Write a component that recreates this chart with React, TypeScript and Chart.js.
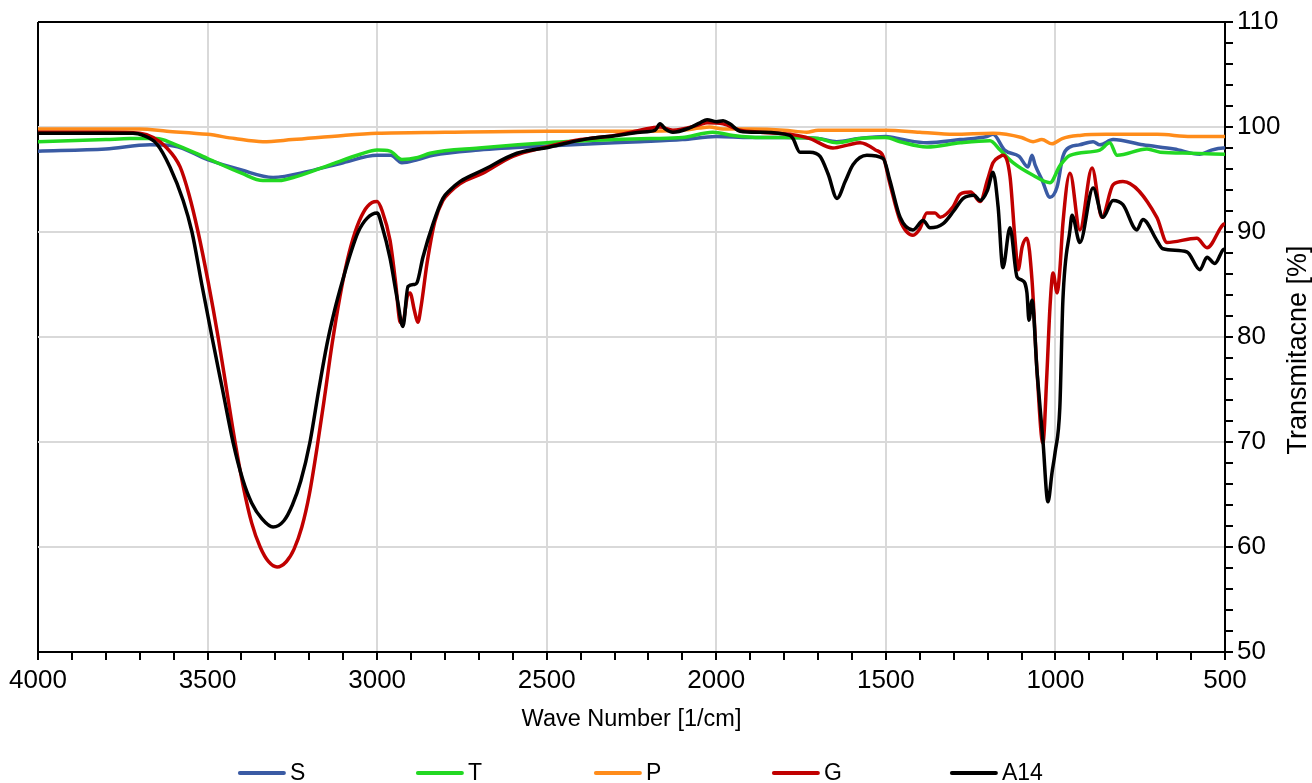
import { useEffect, useRef } from 'react';
import { Chart, registerables } from 'chart.js';

Chart.register(...registerables);

const FONT = '"Liberation Sans", Arial, Helvetica, sans-serif';

const X_TITLE = 'Wave Number [1/cm]';
const Y_TITLE = 'Transmitacne [%]';
const X_MIN = 500;
const X_MAX = 4000;
const Y_MIN = 50;
const Y_MAX = 110;
const SERIES_LABELS = ['S', 'T', 'P', 'G', 'A14'];
const SERIES_COLORS = ['#3a5ba4', '#22d822', '#ff8c1a', '#c00000', '#000000'];

// [wavenumber (1/cm), transmittance (%)]
const S_POINTS = [
  [4000, 97.7], [3800, 97.9], [3670, 98.3], [3600, 98.2], [3500, 96.9], [3400, 95.9],
  [3307, 95.2], [3200, 95.8], [3100, 96.6], [3000, 97.3], [2960, 97.3], [2927, 96.6],
  [2880, 96.9], [2835, 97.3], [2700, 97.8], [2500, 98.2], [2300, 98.5], [2225, 98.6],
  [2100, 98.8], [2000, 99.1], [1900, 99.0], [1800, 99.0], [1700, 98.9], [1645, 98.6],
  [1580, 98.9], [1500, 99.1], [1450, 98.8], [1379, 98.5], [1281, 98.8], [1202, 99.1],
  [1184, 99.3], [1150, 97.8], [1107, 97.2], [1081, 96.2], [1069, 97.3], [1060, 96.4],
  [1040, 95.0], [1016, 93.3], [995, 94.3], [978, 97.2], [957, 98.1], [930, 98.3],
  [889, 98.6], [869, 98.3], [830, 98.8], [742, 98.3], [650, 97.9], [574, 97.4],
  [540, 97.8], [506, 98.0], [500, 98.0],
];

const T_POINTS = [
  [4000, 98.6], [3800, 98.8], [3729, 98.9], [3650, 98.9], [3600, 98.4], [3500, 97.0],
  [3400, 95.6], [3337, 94.9], [3290, 94.9], [3236, 95.3], [3139, 96.4], [3050, 97.4],
  [3000, 97.8], [2962, 97.7], [2927, 96.9], [2880, 97.1], [2844, 97.5], [2700, 98.0],
  [2500, 98.5], [2300, 98.8], [2196, 98.9], [2100, 99.0], [2010, 99.5], [1950, 99.2],
  [1870, 99.0], [1800, 99.0], [1700, 98.9], [1645, 98.5], [1576, 98.9], [1500, 99.0],
  [1458, 98.6], [1379, 98.1], [1281, 98.5], [1193, 98.7], [1163, 97.8], [1125, 96.6],
  [1066, 95.4], [1016, 94.7], [987, 96.3], [957, 97.3], [869, 97.8], [840, 98.5],
  [818, 97.3], [730, 97.9], [691, 97.6], [600, 97.5], [500, 97.4],
];

const P_POINTS = [
  [4000, 99.8], [3700, 99.8], [3620, 99.6], [3500, 99.3], [3420, 98.9], [3337, 98.6],
  [3250, 98.8], [3100, 99.2], [3000, 99.4], [2800, 99.5], [2500, 99.6], [2300, 99.6],
  [2100, 99.7], [2050, 99.9], [2020, 100.0], [1980, 99.8], [1900, 99.8], [1800, 99.7],
  [1733, 99.5], [1700, 99.7], [1500, 99.7], [1400, 99.5], [1300, 99.3], [1184, 99.4],
  [1100, 99.0], [1066, 98.6], [1040, 98.8], [1010, 98.4], [980, 98.9], [928, 99.2],
  [850, 99.3], [700, 99.3], [600, 99.1], [500, 99.1],
];

const G_POINTS = [
  [4000, 99.5], [3800, 99.5], [3700, 99.4], [3660, 99.0], [3620, 98.0], [3581, 96.2],
  [3555, 93.6], [3528, 90.0], [3498, 85.2], [3469, 80.0], [3444, 75.0], [3419, 70.0],
  [3395, 65.8], [3370, 62.3], [3345, 60.0], [3320, 58.6], [3295, 58.1], [3268, 58.6],
  [3245, 59.8], [3222, 61.9], [3200, 65.0], [3177, 69.5], [3155, 74.3], [3133, 79.3],
  [3110, 83.8], [3088, 87.3], [3065, 90.0], [3040, 91.9], [3015, 92.8], [3000, 92.9],
  [2985, 92.0], [2962, 89.2], [2945, 85.0], [2933, 81.5], [2925, 81.3], [2910, 84.0],
  [2903, 84.2], [2890, 82.5], [2880, 81.4], [2870, 83.0], [2853, 87.0], [2830, 91.0],
  [2806, 93.0], [2785, 93.8], [2756, 94.6], [2688, 95.6], [2600, 97.2], [2500, 98.1],
  [2400, 98.8], [2300, 99.2], [2225, 99.7], [2166, 100.0], [2128, 99.7], [2050, 100.2],
  [2027, 100.4], [1980, 100.3], [1930, 99.7], [1870, 99.5], [1783, 99.3], [1724, 98.9],
  [1656, 98.0], [1610, 98.3], [1576, 98.5], [1530, 97.8], [1508, 97.2], [1488, 94.6],
  [1458, 91.1], [1420, 89.7], [1400, 90.3], [1379, 91.8], [1355, 91.8], [1340, 91.4],
  [1302, 92.4], [1281, 93.6], [1250, 93.8], [1222, 92.9], [1200, 95.0], [1184, 96.6],
  [1163, 97.2], [1155, 97.3], [1134, 95.3], [1119, 89.2], [1110, 86.4], [1098, 88.6],
  [1084, 89.4], [1069, 85.4], [1054, 76.6], [1037, 69.9], [1025, 76.6], [1016, 82.9],
  [1007, 86.1], [995, 84.2], [987, 86.4], [978, 90.8], [957, 95.6], [928, 90.2],
  [892, 96.1], [863, 91.4], [830, 94.5], [801, 94.8], [701, 91.4], [671, 89.0],
  [583, 89.4], [553, 88.5], [506, 90.7], [500, 90.8],
];

const A14_POINTS = [
  [4000, 99.4], [3800, 99.4], [3720, 99.4], [3690, 99.2], [3650, 98.4], [3611, 96.2],
  [3572, 93.0], [3546, 90.0], [3517, 85.0], [3487, 80.0], [3456, 75.0], [3425, 70.0],
  [3396, 66.4], [3370, 64.2], [3340, 62.7], [3307, 61.9], [3275, 62.5], [3250, 64.0],
  [3225, 66.3], [3198, 70.0], [3172, 75.0], [3148, 79.3], [3125, 82.6], [3100, 85.6],
  [3078, 88.0], [3056, 90.0], [3030, 91.3], [3000, 91.8], [2985, 90.5], [2962, 87.5],
  [2940, 83.5], [2924, 81.0], [2909, 84.8], [2890, 85.0], [2882, 85.2], [2865, 87.6],
  [2835, 90.8], [2806, 93.2], [2785, 94.0], [2756, 94.8], [2688, 95.9], [2588, 97.5],
  [2490, 98.1], [2393, 98.8], [2293, 99.2], [2225, 99.5], [2180, 99.7], [2166, 100.3],
  [2150, 99.8], [2128, 99.5], [2080, 99.9], [2048, 100.4], [2027, 100.7], [2000, 100.5],
  [1980, 100.6], [1960, 100.3], [1930, 99.6], [1871, 99.5], [1783, 99.2], [1774, 98.9],
  [1753, 97.6], [1724, 97.6], [1694, 97.2], [1670, 95.5], [1644, 93.2], [1620, 94.8],
  [1597, 96.4], [1556, 97.3], [1508, 97.0], [1488, 94.9], [1458, 91.4], [1420, 90.2],
  [1390, 91.1], [1370, 90.4], [1331, 90.8], [1300, 92.0], [1272, 93.2], [1240, 93.5],
  [1222, 93.0], [1200, 94.0], [1184, 95.7], [1169, 92.4], [1155, 86.6], [1134, 90.4],
  [1113, 85.7], [1098, 85.4], [1084, 84.2], [1078, 81.6], [1069, 83.5], [1054, 76.6],
  [1037, 70.2], [1022, 64.3], [1010, 67.1], [1001, 69.0], [987, 73.3], [978, 83.5],
  [957, 90.2], [951, 91.6], [928, 89.0], [889, 94.2], [860, 91.4], [830, 93.0],
  [801, 92.6], [760, 90.2], [742, 91.2], [701, 89.2], [683, 88.4], [612, 88.1],
  [574, 86.4], [553, 87.6], [530, 87.0], [506, 88.3], [500, 88.4],
];

const SERIES_POINTS = [S_POINTS, T_POINTS, P_POINTS, G_POINTS, A14_POINTS];

const overlayPlugin = {
  id: 'overlay',
  afterDraw(chart: any) {
    const { ctx, chartArea } = chart;
    ctx.save();
    // right-hand axis title, reading bottom to top
    ctx.fillStyle = '#000';
    ctx.font = `27px ${FONT}`;
    ctx.textAlign = 'center';
    ctx.textBaseline = 'middle';
    ctx.translate(chart.width - 13, (chartArea.top + chartArea.bottom) / 2 + 13);
    ctx.rotate(-Math.PI / 2);
    ctx.fillText(Y_TITLE, 0, 0);
    ctx.restore();

    // legend
    ctx.save();
    const pitch = 178;
    const cx = (chartArea.left + chartArea.right) / 2;
    const start = cx - 2.2 * pitch;
    const y = chart.height - 10;
    ctx.font = `23px ${FONT}`;
    ctx.textAlign = 'left';
    ctx.textBaseline = 'middle';
    chart.data.datasets.forEach((ds: any, i: number) => {
      const x0 = start + i * pitch;
      ctx.strokeStyle = ds.borderColor;
      ctx.lineWidth = 4;
      ctx.lineCap = 'round';
      ctx.beginPath();
      ctx.moveTo(x0, y);
      ctx.lineTo(x0 + 44, y);
      ctx.stroke();
      ctx.fillStyle = '#000';
      ctx.fillText(ds.label, x0 + 50, y + 1);
    });
    ctx.restore();
  },
};

export default function App() {
  const canvasRef = useRef<HTMLCanvasElement | null>(null);

  useEffect(() => {
    const canvas = canvasRef.current;
    if (!canvas) return;
    const drawOrder = [5, 4, 3, 2, 1];
    const chart = new Chart(canvas, {
      type: 'line',
      data: {
        datasets: SERIES_LABELS.map((label, i) => ({
          label,
          data: SERIES_POINTS[i].map(([x, y]) => ({ x, y })),
          borderColor: SERIES_COLORS[i],
          backgroundColor: SERIES_COLORS[i],
          borderWidth: 3.5,
          pointRadius: 0,
          fill: false,
          cubicInterpolationMode: 'monotone' as const,
          order: drawOrder[i],
        })),
      },
      options: {
        animation: false,
        responsive: false,
        devicePixelRatio: 1,
        layout: { padding: { left: 38, top: 22, right: 0, bottom: 45 } },
        plugins: {
          legend: { display: false },
          tooltip: { enabled: false },
        },
        scales: {
          x: {
            type: 'linear',
            min: X_MIN,
            max: X_MAX,
            reverse: true,
            position: 'bottom',
            afterFit: (s: any) => {
              s.height = 86;
            },
            ticks: {
              stepSize: 100,
              autoSkip: false,
              maxRotation: 0,
              minRotation: 0,
              padding: 5,
              color: '#000',
              font: { family: FONT, size: 26 },
              callback: (v: any) => (Number(v) % 500 === 0 ? String(v) : ''),
            },
            grid: {
              color: (c: any) => {
                const v = c.tick ? c.tick.value : 0;
                if (v === X_MAX) return '#000';
                if (v === X_MIN) return 'rgba(0,0,0,0)';
                return v % 500 === 0 ? '#d9d9d9' : 'rgba(0,0,0,0)';
              },
              lineWidth: 2,
              tickColor: '#000',
              tickLength: 8,
              tickWidth: 2,
            },
            border: { color: '#000', width: 2 },
            title: {
              display: true,
              text: X_TITLE,
              color: '#000',
              font: { family: FONT, size: 23.5 },
              padding: { top: 4, bottom: 4 },
            },
          },
          y: {
            type: 'linear',
            position: 'right',
            min: Y_MIN,
            max: Y_MAX,
            afterFit: (s: any) => {
              s.width = 87;
            },
            ticks: {
              stepSize: 2,
              autoSkip: false,
              padding: 4,
              color: '#000',
              font: { family: FONT, size: 26 },
              callback: (v: any) => (Number(v) % 10 === 0 ? String(v) : ''),
            },
            grid: {
              color: (c: any) => {
                const v = c.tick ? c.tick.value : 0;
                if (v === Y_MAX) return '#000';
                if (v === Y_MIN) return 'rgba(0,0,0,0)';
                return v % 10 === 0 ? '#d9d9d9' : 'rgba(0,0,0,0)';
              },
              lineWidth: 2,
              tickColor: '#000',
              tickLength: 8,
              tickWidth: 2,
            },
            border: { color: '#000', width: 2 },
          },
        },
      },
      plugins: [overlayPlugin],
    });
    return () => chart.destroy();
  }, []);

  return (
    <div style={{ position: 'absolute', left: 0, top: 0, width: 1312, height: 783, background: '#fff' }}>
      <canvas ref={canvasRef} width={1312} height={783} style={{ display: 'block' }} />
    </div>
  );
}
